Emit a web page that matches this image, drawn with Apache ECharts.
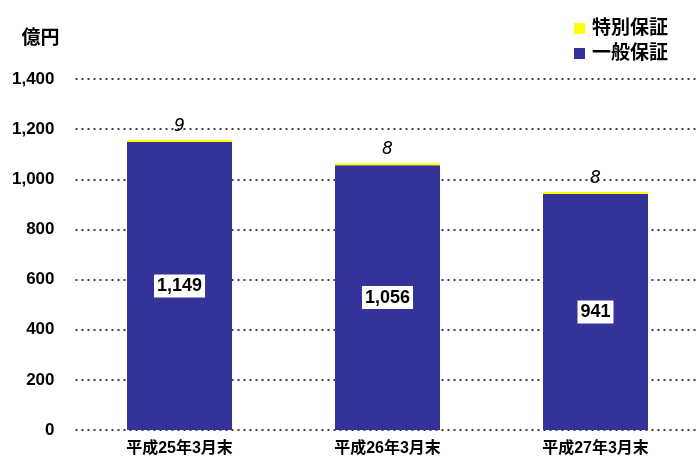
<!DOCTYPE html>
<html>
<head>
<meta charset="utf-8">
<script src="https://cdn.jsdelivr.net/npm/echarts@6/dist/echarts.min.js"></script>
<style>
  html, body { margin: 0; padding: 0; background: #fff; overflow: hidden; }
  #chart { width: 704px; height: 457px; }
</style>
</head>
<body>
<div id="chart"></div>
<script>
// Categories and values (億円)
const categories = ['平成25年3月末', '平成26年3月末', '平成27年3月末'];
const generalGuarantee = [1149, 1056, 941];   // 一般保証
const specialGuarantee = [9, 8, 8];           // 特別保証
const yTicks = [0, 200, 400, 600, 800, 1000, 1200, 1400];

const chart = echarts.init(document.getElementById('chart'));
const cjk = '"Liberation Sans", Arial, "Noto Sans CJK JP", sans-serif';

chart.setOption({
  animation: false,
  textStyle: { fontFamily: cjk },
  grid: { left: 75.5, right: 4.5, top: 79, bottom: 27, containLabel: false },
  legend: {
    orient: 'vertical',
    right: 31,
    top: 14,
    icon: 'rect',
    itemWidth: 11,
    itemHeight: 11,
    itemGap: 6,
    data: ['特別保証', '一般保証'],
    textStyle: { fontSize: 19, lineHeight: 19, fontWeight: 'bold', color: '#000', fontFamily: cjk, padding: [0, 0, 0, 2] }
  },
  xAxis: {
    type: 'category',
    data: categories,
    axisLine: { show: false },
    axisTick: { show: false },
    axisLabel: { color: '#000', fontWeight: 'bold', fontSize: 16, margin: 11, fontFamily: cjk }
  },
  yAxis: {
    type: 'value',
    min: yTicks[0],
    max: yTicks[yTicks.length - 1],
    interval: 200,
    name: '億円',
    nameLocation: 'end',
    nameGap: 31,
    nameTextStyle: { color: '#000', fontWeight: 'bold', fontSize: 19, align: 'right', padding: [0, 16, 0, 0], fontFamily: cjk },
    axisLine: { show: false },
    axisTick: { show: false },
    axisLabel: {
      color: '#000', fontWeight: 'bold', fontSize: 17, margin: 21,
      formatter: v => v.toLocaleString('en-US')
    },
    splitLine: { show: true, lineStyle: { color: '#000', type: [2, 4], width: 1.6 } }
  },
  series: [
    {
      name: '一般保証',
      type: 'bar',
      stack: 'total',
      barWidth: 105,
      data: generalGuarantee,
      itemStyle: { color: '#333399' },
      label: {
        show: true,
        position: 'inside',
        color: '#000',
        backgroundColor: '#fff',
        fontSize: 18,
        fontWeight: 'bold',
        padding: [3, 3, 2, 3],
        formatter: p => p.value.toLocaleString('en-US')
      }
    },
    {
      name: '特別保証',
      type: 'bar',
      stack: 'total',
      barWidth: 105,
      data: specialGuarantee,
      itemStyle: { color: '#ffff00' },
      label: {
        show: true,
        position: 'top',
        distance: 5,
        color: '#000',
        fontSize: 17,
        fontStyle: 'italic',
        fontWeight: 'lighter',
        fontFamily: '"DejaVu Sans", sans-serif'
      }
    }
  ]
});
</script>
</body>
</html>
